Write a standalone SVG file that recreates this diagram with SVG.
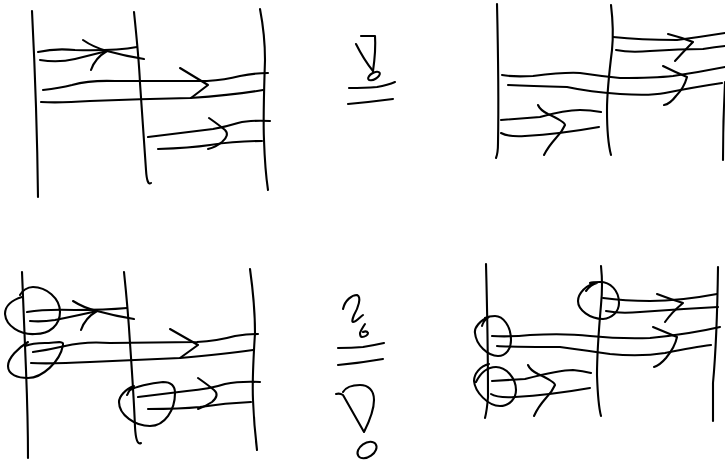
<svg xmlns="http://www.w3.org/2000/svg" width="725" height="461" viewBox="0 0 725 461">
<style>path,ellipse{fill:none;stroke:#000;stroke-width:2.1;stroke-linecap:round;stroke-linejoin:round}</style>
<rect width="725" height="461" fill="#fff"/>
<g id="top-left">
<path d="M32 11Q37 110 38 197"/>
<path d="M134 12Q139 60 140 83Q144 140 146 170Q147 186 151 183"/>
<path d="M260 9Q265 35 265 60Q263 120 264 140Q265 170 268 190"/>
<path d="M38 52Q55 48 75 50Q115 51 137 47"/>
<path d="M40 60Q58 63 75 59Q95 54 107 51"/>
<path d="M83 40Q93 47 107 51Q125 56 144 59"/>
<path d="M91 70Q95 58 107 51"/>
<path d="M43 90Q60 88 72 85Q90 80 115 81L207 81Q225 80 240 76Q255 73 268 73"/>
<path d="M41 102Q60 103 90 101Q140 99 190 98Q235 95 263 90"/>
<path d="M180 68L208 85L191 98"/>
<path d="M148 137L213 129Q225 127 238 123Q250 120 270 121"/>
<path d="M158 149Q190 148 210 145Q235 141 262 141"/>
<path d="M209 118Q219 125 225 130Q230 135 222 142Q216 147 208 149"/>
<path d="M361 36L375 36Q376 50 373 71"/>
<path d="M356 44Q364 60 373 71"/>
<ellipse cx="374" cy="76" rx="6.5" ry="3.2" transform="rotate(-30 374 76)"/>
<path d="M349 88Q365 88 377 87Q388 85 395 82"/>
<path d="M348 104Q370 102 393 99"/>
</g>
<g id="top-right">
<path d="M497 4Q499 90 498 143Q498 153 496 158"/>
<path d="M611 5Q614 30 612 50Q607 90 607 110Q607 140 611 155"/>
<path d="M725 82Q723 120 723 160"/>
<path d="M613 37Q640 40 677 40Q700 37 725 33"/>
<path d="M616 50Q630 53 650 51Q680 49 703 49Q715 47 725 46"/>
<path d="M668 34Q680 37 693 42Q685 50 675 61"/>
<path d="M502 75Q512 77 533 76Q565 72 580 73Q600 76 620 78Q655 78 673 76Q700 72 725 67"/>
<path d="M508 85Q530 86 567 87Q590 92 620 94Q650 96 665 93Q695 87 722 83"/>
<path d="M663 66Q675 72 687 77Q684 88 676 96Q670 104 664 105"/>
<path d="M501 120L540 117Q565 110 580 110Q590 110 601 112"/>
<path d="M501 133Q508 137 525 136Q560 134 599 127"/>
<path d="M538 105Q540 110 548 114Q565 122 565 125Q562 132 556 138Q548 147 544 155"/>
</g>
<g id="bottom-left">
<path d="M22 272Q24 320 26 370Q28 420 28 458"/>
<path d="M124 272Q128 310 130 343Q134 400 135 427Q136 446 141 443"/>
<path d="M250 269Q255 305 255 333Q252 380 253 400Q254 425 257 450"/>
<path d="M22 297C12 300 5 306 5 314C6 326 20 335 35 334C50 334 60 325 60 312C60 298 46 287 33 287C27 287 22 291 20 295"/>
<path d="M27 312Q45 309 75 310Q105 310 127 308"/>
<path d="M30 321Q42 322 55 320Q80 315 97 311"/>
<path d="M73 301Q84 308 97 311Q115 316 134 319"/>
<path d="M81 330Q85 318 97 311"/>
<path d="M28 342C18 348 8 358 8 366C8 375 18 378 28 378C42 378 60 362 63 345C64 340 55 343 45 343C38 343 30 344 25 346"/>
<path d="M33 352Q48 350 65 346Q85 341 110 343L197 342Q217 341 235 336Q248 334 258 334"/>
<path d="M31 363Q50 364 90 362Q135 360 180 358Q225 354 253 350"/>
<path d="M170 329L198 345L180 358"/>
<path d="M134 386C125 389 119 397 119 402C119 415 135 426 150 426C165 426 175 410 175 393C175 385 170 382 163 382C150 383 135 387 130 390C128 392 128 394 127 395"/>
<path d="M138 397L187 391Q210 389 225 384Q240 381 260 382"/>
<path d="M148 409Q180 409 200 407Q225 403 251 402"/>
<path d="M198 378Q208 385 214 390Q220 395 212 402Q206 406 198 409"/>
<path d="M343 309C345 300 352 295 357 295C362 297 358 308 354 315C352 320 352 322 353 322C356 322 360 317 363 315"/>
<path d="M365 324C363 327 361 330 360 333C360 336 361 337 362 337C365 337 368 335 368 333C367 331 365 331 363 332"/>
<path d="M338 348Q352 348 363 347Q375 345 384 343"/>
<path d="M338 365Q360 363 383 359"/>
<path d="M336 394Q340 393 343 395L364 432C370 420 374 410 374 400C374 390 368 385 360 385C352 385 346 387 343 392"/>
<ellipse cx="367" cy="450" rx="10.500" ry="7" transform="rotate(-35 367 450)"/>
</g>
<g id="bottom-right">
<path d="M486 264Q488 340 488 397Q487 410 485 418"/>
<path d="M601 266Q603 285 601 305Q597 350 597 375Q598 405 601 416"/>
<path d="M718 267Q717 340 713 383Q713 405 713 421"/>
<path d="M586 291C589 287 592 284 597 283C586 284 578 294 578 301C578 310 590 319 603 319C612 318 619 312 619 303C619 290 610 282 600 282C596 282 592 282 590 283"/>
<path d="M603 298Q625 301 650 301Q680 301 717 294"/>
<path d="M606 311Q620 314 640 312Q680 309 718 307"/>
<path d="M657 294Q670 299 683 303Q672 312 665 322"/>
<path d="M482 326C483 322 486 319 489 317C480 320 474 328 475 333C476 345 488 356 498 356C506 356 511 349 511 340C511 326 503 316 495 316C491 316 487 317 485 318"/>
<path d="M492 336Q510 337 530 335Q565 333 590 336Q620 339 650 338Q690 334 720 327"/>
<path d="M497 346Q510 347 560 347Q590 351 610 354Q640 357 665 353Q695 347 711 345"/>
<path d="M653 327Q665 332 677 337Q675 347 666 358Q660 365 654 367"/>
<path d="M489 364C480 366 474 374 474 381C475 392 488 406 500 406C510 406 516 398 516 390C516 378 506 367 496 367C487 367 480 374 476 382"/>
<path d="M492 381L525 379Q560 370 573 370Q583 371 591 373"/>
<path d="M491 394Q497 398 515 397Q550 395 590 388"/>
<path d="M528 365Q530 370 538 374Q555 382 555 385Q552 392 546 398Q538 407 534 416"/>
</g>
</svg>
